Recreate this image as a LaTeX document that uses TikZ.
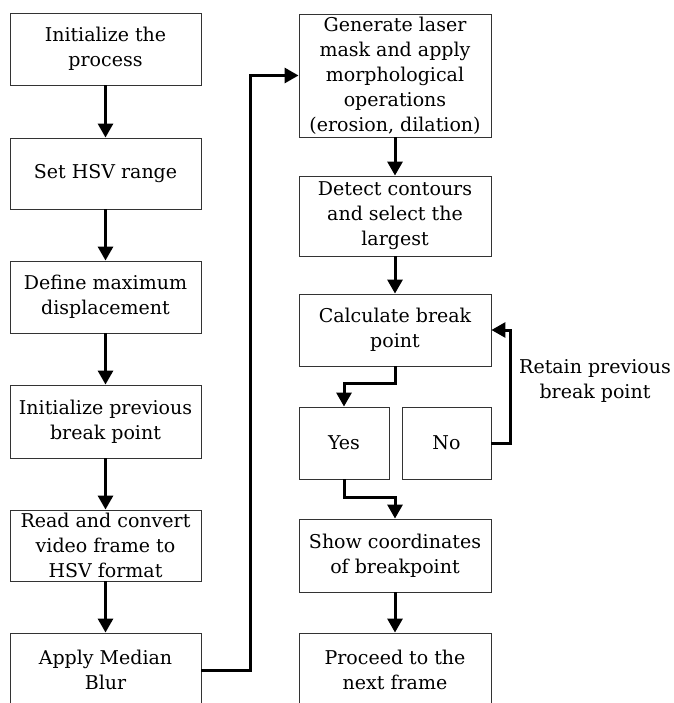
\documentclass[tikz,border=0pt]{standalone}
\usepackage{fontspec}
\setmainfont{DejaVu Serif}
\usetikzlibrary{arrows.meta}
\tikzset{
  box/.style={draw=black!80, line width=0.9pt, rectangle, align=center, inner sep=0pt,
    font=\fontsize{19}{25}\selectfont},
  arr/.style={line width=3pt, -{Triangle[width=15pt,length=14pt]}},
  lbl/.style={align=center, font=\fontsize{19}{25}\selectfont}
}
\begin{document}
\begin{tikzpicture}[x=1pt,y=-1pt]
\clip (0,0) rectangle (673,703);
\fill[white] (0,0) rectangle (673,703);
% left column
\node[box, minimum width=191pt, minimum height=72pt] (b1) at (105.5,49) {Initialize the\\process};
\node[box, minimum width=191pt, minimum height=71pt] (b2) at (105.5,173.5) {Set HSV range};
\node[box, minimum width=191pt, minimum height=72pt] (b3) at (105.5,297) {Define maximum\\displacement};
\node[box, minimum width=191pt, minimum height=73pt] (b4) at (105.5,421.5) {Initialize previous\\break point};
\node[box, minimum width=191pt, minimum height=71pt] (b5) at (105.5,545.5) {Read and convert\\video frame to\\HSV format};
\node[box, minimum width=191pt, minimum height=74pt] (b6) at (105.5,670) {Apply Median\\Blur};
% right column
\node[box, minimum width=192pt, minimum height=123pt] (g) at (395,75.5) {Generate laser\\mask and apply\\morphological\\operations\\(erosion, dilation)};
\node[box, minimum width=192pt, minimum height=80pt] (d) at (395,216) {Detect contours\\and select the\\largest};
\node[box, minimum width=192pt, minimum height=72pt] (c) at (395,330) {Calculate break\\point};
\node[box, minimum width=90pt, minimum height=72pt] (yes) at (344,443) {Yes};
\node[box, minimum width=89pt, minimum height=72pt] (no) at (446.5,443) {No};
\node[box, minimum width=192pt, minimum height=73pt] (show) at (395,555.5) {Show coordinates\\of breakpoint};
\node[box, minimum width=192pt, minimum height=74pt] (next) at (395,670) {Proceed to the\\next frame};
\node[lbl] (retain) at (595,381) {Retain previous\\break point};
% connectors
\draw[arr] (b1) -- (b2);
\draw[arr] (b2) -- (b3);
\draw[arr] (b3) -- (b4);
\draw[arr] (b4) -- (b5);
\draw[arr] (b5) -- (b6);
\draw[arr] (b6.east) -- ++(49,0) |- (g.west);
\draw[arr] (g) -- (d);
\draw[arr] (d) -- (c);
\draw[arr] (c.south) -- ++(0,17) -| (yes.north);
\draw[arr] (yes.south) -- ++(0,18) -| (show.north);
\draw[arr] (no.east) -- ++(19,0) |- (c.east);
\draw[arr] (show) -- (next);
\end{tikzpicture}
\end{document}
